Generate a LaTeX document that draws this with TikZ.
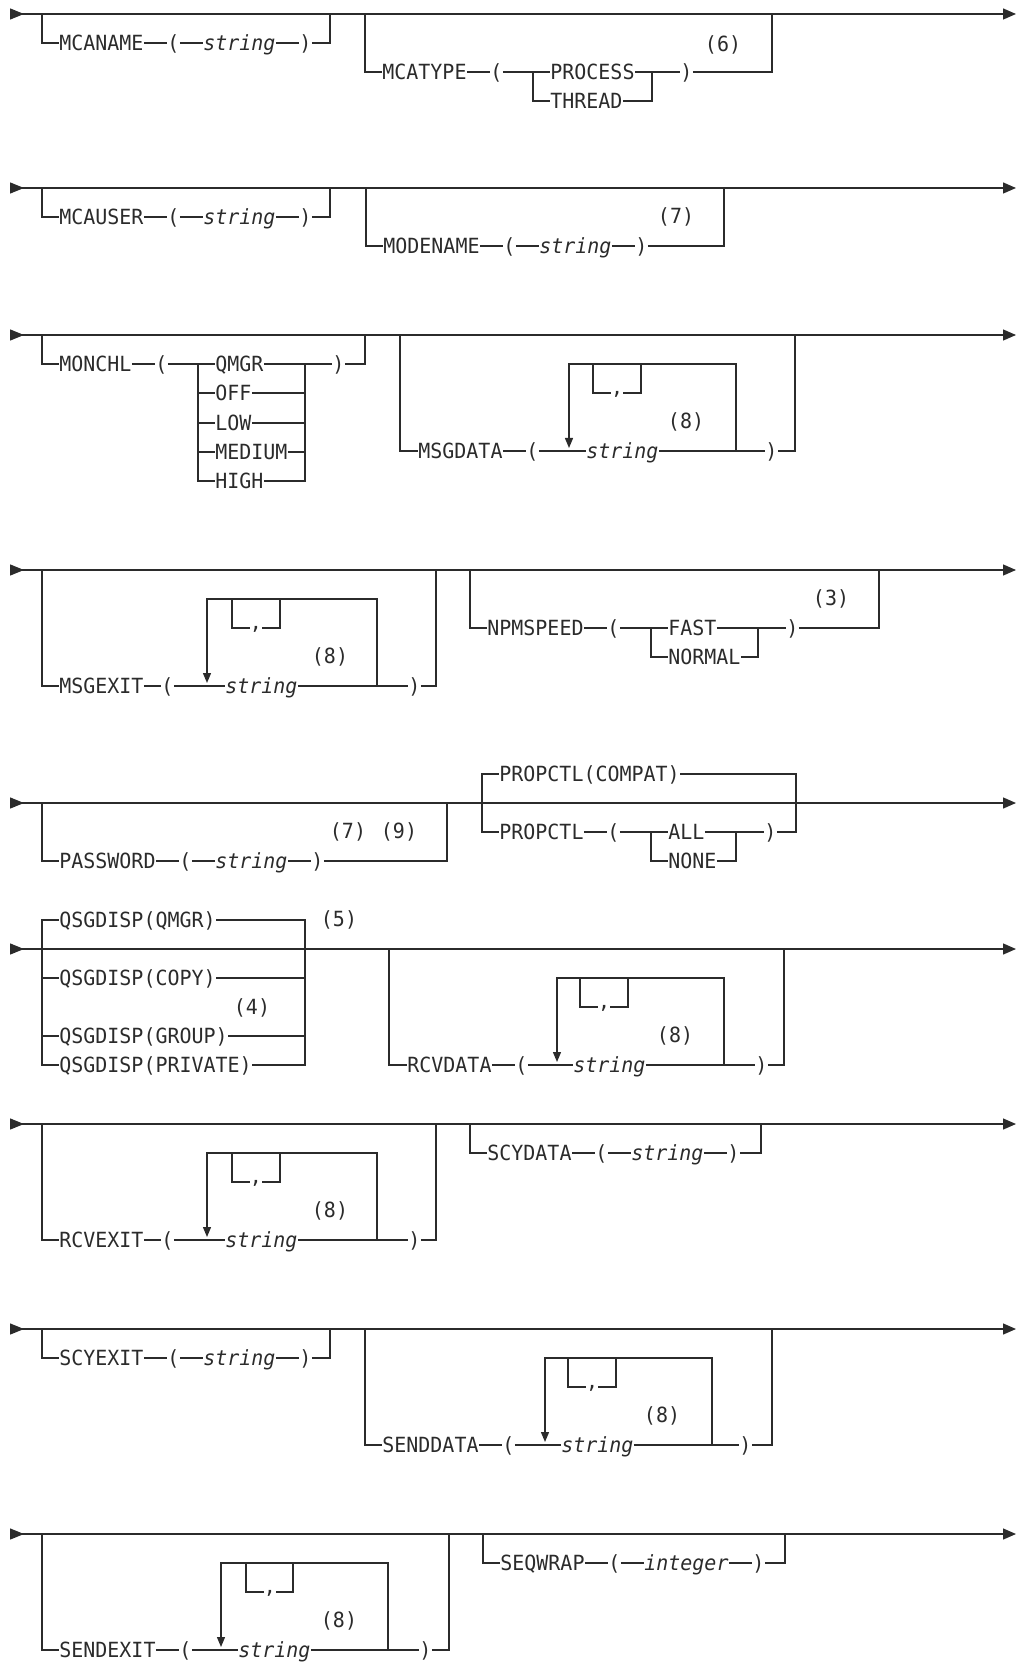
\documentclass[tikz,border=0pt]{standalone}
\usepackage{fontspec}
\setmonofont[FakeStretch=0.955]{DejaVu Sans Mono}
\usetikzlibrary{arrows.meta}
\definecolor{ink}{HTML}{2B2B2B}
\newcommand{\kwfont}{\fontsize{10.45pt}{12pt}\selectfont\ttfamily}

\begin{document}
\begin{tikzpicture}[x=0.5pt,y=-0.5pt]
	\tikzset{
		rail/.style={draw=ink, line width=0.65pt},
		mainrail/.style={rail, {Triangle[reversed,length=7pt,width=5.5pt]}-{Triangle[length=6.5pt,width=5.5pt]}},
		looprail/.style={rail, -{Triangle[length=5pt,width=4pt]}, shorten >=1.5pt},
		kw/.style={inner sep=0pt, anchor=west, text height=7.6pt, text depth=0pt, font=\kwfont, text=ink},
		var/.style={kw, font=\kwfont\itshape},
		fn/.style={inner sep=0pt, font=\kwfont, text=ink},
		comma/.style={inner sep=0pt, minimum width=6pt, text height=1.5pt, text depth=0pt, font=\kwfont, text=ink}
	}
	\useasboundingbox (0,0) rectangle (1017,1663);
	
	\foreach \y [count=\i] in {14,188,335,570,803,949,1124,1329,1534} {
		\coordinate (s\i) at (10,\y);
		\coordinate (e\i) at (1016,\y);
		\draw[mainrail] (s\i) -- (e\i);
	}
	
	% row 1
	\coordinate (a1) at (42,14);
	\node[kw] (k1) at (59,43) {MCANAME};
	\node[kw] (p1) at (167,43) {(};
	\node[var] (v1) at (203,43) {string};
	\node[kw] (q1) at (299,43) {)};
	\coordinate (b1) at (330,14);
	\draw[rail] (a1) |- (k1) -- (p1) -- (v1) -- (q1) -| (b1);
	
	\coordinate (a2) at (365,14);
	\node[kw] (k2) at (382,72) {MCATYPE};
	\node[kw] (p2) at (490,72) {(};
	\coordinate (sp2) at (533,72);
	\node[kw] (o21) at (550,72) {PROCESS};
	\node[kw] (o22) at (550,101) {THREAD};
	\coordinate (j2) at (652,72);
	\node[kw] (q2) at (680,72) {)};
	\coordinate (b2) at (772,14);
	\node[fn] (f6) at (723,45) {(6)};
	\draw[rail] (a2) |- (k2) -- (p2) -- (o21) -- (q2) -| (b2);
	\draw[rail] (sp2) |- (o22) -| (j2);
	
	% row 2
	\coordinate (a3) at (42,188);
	\node[kw] (k3) at (59,217) {MCAUSER};
	\node[kw] (p3) at (167,217) {(};
	\node[var] (v3) at (203,217) {string};
	\node[kw] (q3) at (299,217) {)};
	\coordinate (b3) at (330,188);
	\draw[rail] (a3) |- (k3) -- (p3) -- (v3) -- (q3) -| (b3);
	
	\coordinate (a4) at (366,188);
	\node[kw] (k4) at (383,246) {MODENAME};
	\node[kw] (p4) at (503,246) {(};
	\node[var] (v4) at (539,246) {string};
	\node[kw] (q4) at (635,246) {)};
	\coordinate (b4) at (724,188);
	\node[fn] (f7) at (676,217) {(7)};
	\draw[rail] (a4) |- (k4) -- (p4) -- (v4) -- (q4) -| (b4);
	
	% row 3
	\coordinate (a5) at (42,335);
	\node[kw] (k5) at (59,364) {MONCHL};
	\node[kw] (p5) at (155,364) {(};
	\coordinate (sp5) at (198,364);
	\node[kw] (o51) at (215,364) {QMGR};
	\node[kw] (o52) at (215,393) {OFF};
	\node[kw] (o53) at (215,423) {LOW};
	\node[kw] (o54) at (215,452) {MEDIUM};
	\node[kw] (o55) at (215,481) {HIGH};
	\coordinate (j5) at (305,364);
	\node[kw] (q5) at (332,364) {)};
	\coordinate (b5) at (365,335);
	\draw[rail] (a5) |- (k5) -- (p5) -- (o51) -- (q5) -| (b5);
	\foreach \o in {2,...,5}
		\draw[rail] (sp5) |- (o5\o) -| (j5);
	
	\coordinate (a6) at (400,335);
	\node[kw] (k6) at (418,451) {MSGDATA};
	\node[kw] (p6) at (526,451) {(};
	\coordinate (l6) at (569,451);
	\node[var] (v6) at (586,451) {string};
	\coordinate (r6) at (736,451);
	\node[kw] (q6) at (765,451) {)};
	\coordinate (b6) at (795,335);
	\coordinate (lt6) at (569,364);
	\coordinate (rt6) at (736,364);
	\coordinate (c61) at (593,364);
	\coordinate (c62) at (641,364);
	\node[comma] (cm6) at (617,393) {,};
	\node[fn] (f8a) at (686,422) {(8)};
	\draw[rail] (a6) |- (k6) -- (p6) -- (v6) -- (q6) -| (b6);
	\draw[looprail] (r6) -- (rt6) -- (lt6) -- (l6);
	\draw[rail] (c61) |- (cm6) -| (c62);
	
	% row 4
	\coordinate (a7) at (42,570);
	\node[kw] (k7) at (59,686) {MSGEXIT};
	\node[kw] (p7) at (161,686) {(};
	\coordinate (l7) at (207,686);
	\node[var] (v7) at (225,686) {string};
	\coordinate (r7) at (377,686);
	\node[kw] (q7) at (408,686) {)};
	\coordinate (b7) at (436,570);
	\coordinate (lt7) at (207,599);
	\coordinate (rt7) at (377,599);
	\coordinate (c71) at (232,599);
	\coordinate (c72) at (280,599);
	\node[comma] (cm7) at (256,628) {,};
	\node[fn] (f8b) at (330,657) {(8)};
	\draw[rail] (a7) |- (k7) -- (p7) -- (v7) -- (q7) -| (b7);
	\draw[looprail] (r7) -- (rt7) -- (lt7) -- (l7);
	\draw[rail] (c71) |- (cm7) -| (c72);
	
	\coordinate (a8) at (470,570);
	\node[kw] (k8) at (487,628) {NPMSPEED};
	\node[kw] (p8) at (607,628) {(};
	\coordinate (sp8) at (651,628);
	\node[kw] (o81) at (668,628) {FAST};
	\node[kw] (o82) at (668,657) {NORMAL};
	\coordinate (j8) at (758,628);
	\node[kw] (q8) at (786,628) {)};
	\coordinate (b8) at (879,570);
	\node[fn] (f3) at (831,599) {(3)};
	\draw[rail] (a8) |- (k8) -- (p8) -- (o81) -- (q8) -| (b8);
	\draw[rail] (sp8) |- (o82) -| (j8);
	
	% row 5
	\coordinate (a9) at (42,803);
	\node[kw] (k9) at (59,861) {PASSWORD};
	\node[kw] (p9) at (179,861) {(};
	\node[var] (v9) at (215,861) {string};
	\node[kw] (q9) at (311,861) {)};
	\coordinate (b9) at (447,803);
	\node[fn] (f7b) at (348,832) {(7)};
	\node[fn] (f9) at (399,832) {(9)};
	\draw[rail] (a9) |- (k9) -- (p9) -- (v9) -- (q9) -| (b9);
	
	\coordinate (a10) at (482,803);
	\node[kw] (k10) at (499,774) {PROPCTL(COMPAT)};
	\coordinate (b10) at (796,803);
	\draw[rail] (a10) |- (k10) -| (b10);
	\node[kw] (k11) at (499,832) {PROPCTL};
	\node[kw] (p11) at (607,832) {(};
	\coordinate (sp11) at (651,832);
	\node[kw] (o111) at (668,832) {ALL};
	\node[kw] (o112) at (668,861) {NONE};
	\coordinate (j11) at (736,832);
	\node[kw] (q11) at (764,832) {)};
	\draw[rail] (a10) |- (k11) -- (p11) -- (o111) -- (q11) -| (b10);
	\draw[rail] (sp11) |- (o112) -| (j11);
	
	% row 6
	\coordinate (a12) at (42,949);
	\coordinate (b12) at (305,949);
	\node[kw] (g1) at (59,920) {QSGDISP(QMGR)};
	\node[kw] (g2) at (59,978) {QSGDISP(COPY)};
	\node[kw] (g3) at (59,1036) {QSGDISP(GROUP)};
	\node[kw] (g4) at (59,1065) {QSGDISP(PRIVATE)};
	\foreach \g in {1,...,4}
		\draw[rail] (a12) |- (g\g) -| (b12);
	\node[fn] (f5) at (339,920) {(5)};
	\node[fn] (f4) at (252,1008) {(4)};
	
	\coordinate (a13) at (389,949);
	\node[kw] (k13) at (407,1065) {RCVDATA};
	\node[kw] (p13) at (515,1065) {(};
	\coordinate (l13) at (557,1065);
	\node[var] (v13) at (573,1065) {string};
	\coordinate (r13) at (724,1065);
	\node[kw] (q13) at (755,1065) {)};
	\coordinate (b13) at (784,949);
	\coordinate (lt13) at (557,978);
	\coordinate (rt13) at (724,978);
	\coordinate (c131) at (580,978);
	\coordinate (c132) at (628,978);
	\node[comma] (cm13) at (604,1007) {,};
	\node[fn] (f8c) at (675,1036) {(8)};
	\draw[rail] (a13) |- (k13) -- (p13) -- (v13) -- (q13) -| (b13);
	\draw[looprail] (r13) -- (rt13) -- (lt13) -- (l13);
	\draw[rail] (c131) |- (cm13) -| (c132);
	
	% row 7
	\coordinate (a14) at (42,1124);
	\node[kw] (k14) at (59,1240) {RCVEXIT};
	\node[kw] (p14) at (161,1240) {(};
	\coordinate (l14) at (207,1240);
	\node[var] (v14) at (225,1240) {string};
	\coordinate (r14) at (377,1240);
	\node[kw] (q14) at (408,1240) {)};
	\coordinate (b14) at (436,1124);
	\coordinate (lt14) at (207,1153);
	\coordinate (rt14) at (377,1153);
	\coordinate (c141) at (232,1153);
	\coordinate (c142) at (280,1153);
	\node[comma] (cm14) at (256,1182) {,};
	\node[fn] (f8d) at (330,1211) {(8)};
	\draw[rail] (a14) |- (k14) -- (p14) -- (v14) -- (q14) -| (b14);
	\draw[looprail] (r14) -- (rt14) -- (lt14) -- (l14);
	\draw[rail] (c141) |- (cm14) -| (c142);
	
	\coordinate (a15) at (470,1124);
	\node[kw] (k15) at (487,1153) {SCYDATA};
	\node[kw] (p15) at (595,1153) {(};
	\node[var] (v15) at (631,1153) {string};
	\node[kw] (q15) at (727,1153) {)};
	\coordinate (b15) at (761,1124);
	\draw[rail] (a15) |- (k15) -- (p15) -- (v15) -- (q15) -| (b15);
	
	% row 8
	\coordinate (a16) at (42,1329);
	\node[kw] (k16) at (59,1358) {SCYEXIT};
	\node[kw] (p16) at (167,1358) {(};
	\node[var] (v16) at (203,1358) {string};
	\node[kw] (q16) at (299,1358) {)};
	\coordinate (b16) at (330,1329);
	\draw[rail] (a16) |- (k16) -- (p16) -- (v16) -- (q16) -| (b16);
	
	\coordinate (a17) at (365,1329);
	\node[kw] (k17) at (382,1445) {SENDDATA};
	\node[kw] (p17) at (502,1445) {(};
	\coordinate (l17) at (545,1445);
	\node[var] (v17) at (561,1445) {string};
	\coordinate (r17) at (712,1445);
	\node[kw] (q17) at (739,1445) {)};
	\coordinate (b17) at (772,1329);
	\coordinate (lt17) at (545,1358);
	\coordinate (rt17) at (712,1358);
	\coordinate (c171) at (568,1358);
	\coordinate (c172) at (616,1358);
	\node[comma] (cm17) at (592,1387) {,};
	\node[fn] (f8e) at (662,1416) {(8)};
	\draw[rail] (a17) |- (k17) -- (p17) -- (v17) -- (q17) -| (b17);
	\draw[looprail] (r17) -- (rt17) -- (lt17) -- (l17);
	\draw[rail] (c171) |- (cm17) -| (c172);
	
	% row 9
	\coordinate (a18) at (42,1534);
	\node[kw] (k18) at (59,1650) {SENDEXIT};
	\node[kw] (p18) at (179,1650) {(};
	\coordinate (l18) at (221,1650);
	\node[var] (v18) at (238,1650) {string};
	\coordinate (r18) at (388,1650);
	\node[kw] (q18) at (419,1650) {)};
	\coordinate (b18) at (449,1534);
	\coordinate (lt18) at (221,1563);
	\coordinate (rt18) at (388,1563);
	\coordinate (c181) at (246,1563);
	\coordinate (c182) at (293,1563);
	\node[comma] (cm18) at (270,1592) {,};
	\node[fn] (f8f) at (339,1621) {(8)};
	\draw[rail] (a18) |- (k18) -- (p18) -- (v18) -- (q18) -| (b18);
	\draw[looprail] (r18) -- (rt18) -- (lt18) -- (l18);
	\draw[rail] (c181) |- (cm18) -| (c182);
	
	\coordinate (a19) at (483,1534);
	\node[kw] (k19) at (500,1563) {SEQWRAP};
	\node[kw] (p19) at (608,1563) {(};
	\node[var] (v19) at (644,1563) {integer};
	\node[kw] (q19) at (752,1563) {)};
	\coordinate (b19) at (785,1534);
	\draw[rail] (a19) |- (k19) -- (p19) -- (v19) -- (q19) -| (b19);
\end{tikzpicture}
\end{document}
